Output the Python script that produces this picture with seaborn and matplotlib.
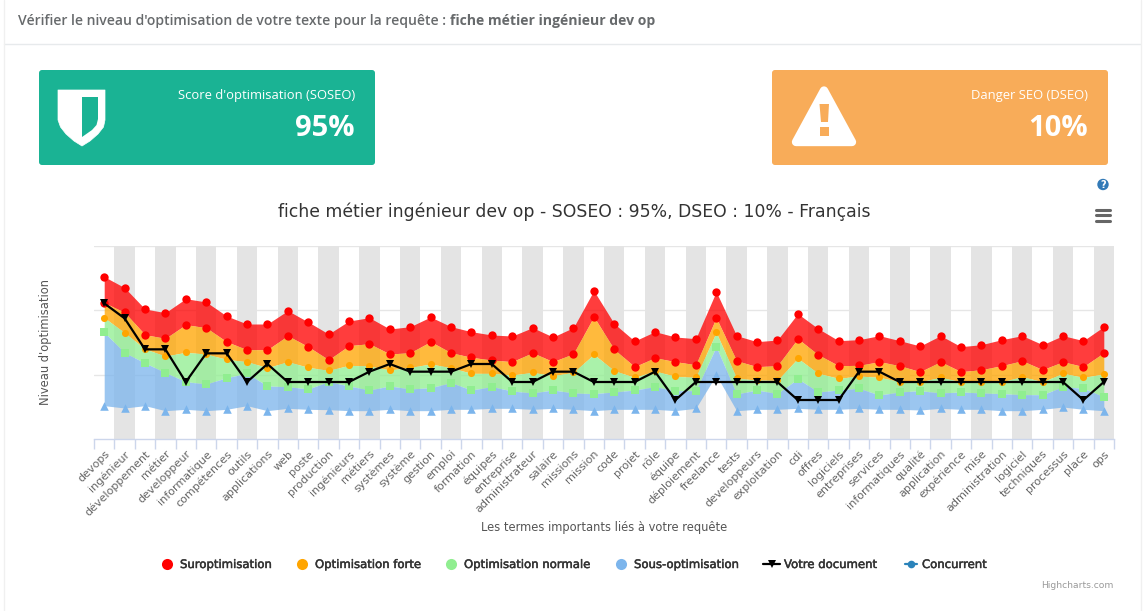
import numpy as np
import pandas as pd
import matplotlib
matplotlib.use("Agg")
import matplotlib.pyplot as plt
import matplotlib.patheffects as pe
from matplotlib.patches import FancyBboxPatch, Polygon, Circle, Rectangle
from matplotlib.lines import Line2D
import seaborn as sns

terms = ["devops","ingénieur","développement","métier","developpeur","informatique","compétences","outils",
 "applications","web","poste","production","ingénieurs","métiers","systèmes","système","gestion","emploi",
 "formation","équipes","entreprise","administrateur","salaire","missions","mission","code","projet","rôle",
 "équipe","déploiement","freelance","tests","developpeurs","exploitation","cdi","offres","logiciels",
 "entreprises","services","informatiques","qualité","application","expérience","mise","administration",
 "logiciel","techniques","processus","place","ops"]
suropt_top = [487,454,390,379,421,411,369,345,345,385,351,315,354,364,330,337,366,337,322,312,309,334,306,334,445,
 346,294,322,306,301,442,310,292,297,376,331,295,298,310,295,279,310,277,283,298,310,283,310,295,337]
forte_top = [409,380,313,302,343,334,292,268,268,310,277,238,280,286,255,259,292,259,245,237,232,259,232,256,367,
 269,217,244,232,223,364,235,217,220,301,253,220,221,232,220,202,232,202,208,220,235,208,232,217,259]
normale_top = [364,319,270,249,260,255,239,232,214,232,215,206,221,219,207,215,225,214,197,197,192,200,190,200,254,
 205,185,204,188,185,320,182,177,176,242,197,182,189,185,172,172,185,172,172,172,187,172,197,185,195]
sous_top = [320,259,228,199,172,165,184,197,159,157,150,172,159,147,159,150,154,169,147,157,144,138,147,138,136,
 141,147,157,145,145,277,135,147,136,181,141,147,152,132,141,145,138,141,138,136,133,133,157,152,127]
sous_bas = [100,93,100,85,89,85,89,100,85,92,89,88,85,85,89,85,85,89,89,92,92,89,92,89,85,
 89,89,89,85,92,192,85,89,89,92,89,89,92,89,89,87,92,89,89,85,85,89,96,89,85]
votre_doc = [407,362,269,269,171,257,257,171,225,171,171,171,171,202,225,202,202,202,225,225,171,171,202,202,171,
 171,171,202,117,171,171,171,171,171,117,117,117,202,202,171,171,171,171,171,171,171,171,171,117,171]

page_title = "Vérifier le niveau d'optimisation de votre texte pour la requête : "
query = "fiche métier ingénieur dev op"
chart_title = "fiche métier ingénieur dev op - SOSEO : 95%, DSEO : 10% - Français"

sns.set_theme(style="white")
plt.rcParams["font.family"] = ["DejaVu Sans"]

fig = plt.figure(figsize=(11.45, 6.11), dpi=100, facecolor="white")
W, H = 1145, 611
ov = fig.add_axes([0, 0, 1, 1], zorder=0)
ov.set_xlim(0, W); ov.set_ylim(H, 0); ov.axis("off")

# page furniture
ov.add_line(Line2D([4, 1140], [44, 44], color="#e7eaec", lw=1))
ov.add_line(Line2D([3.5, 3.5], [0, 611], color="#f0f0f0", lw=1))
ov.add_line(Line2D([1140.5, 1140.5], [0, 611], color="#f0f0f0", lw=1))
t = ov.text(18, 21, page_title, fontfamily="Open Sans", fontsize=10.05, fontweight="semibold", color="#676a6c", va="center")
fig.canvas.draw()
bb = t.get_window_extent()
ov.text(bb.x1, 21, query, fontfamily="Open Sans", fontsize=10.05, fontweight="bold", color="#676a6c", va="center")

for x0, x1, c in [(39, 375, "#1ab394"), (772, 1108, "#f8ac59")]:
    ov.add_patch(FancyBboxPatch((x0+3, 73), x1-x0-6, 89, boxstyle="round,pad=3,rounding_size=3", fc=c, ec="none"))
ov.text(355, 95, "Score d'optimisation (SOSEO)", fontfamily="Open Sans", fontsize=9.35, color="white", ha="right", va="center")
ov.text(355, 128.5, "95%", fontfamily="Open Sans", fontsize=21, fontweight="bold", color="white", ha="right", va="center")
ov.text(1088, 95, "Danger SEO (DSEO)", fontfamily="Open Sans", fontsize=9.35, color="white", ha="right", va="center")
ov.text(1088, 128.5, "10%", fontfamily="Open Sans", fontsize=21, fontweight="bold", color="white", ha="right", va="center")

# shield
ov.add_patch(Polygon([(58,90),(105,90),(105,120),(103.5,127),(98,134),(90,141),(82,146),(74,141),(66,134),(60.5,127),(58,120)],
                     fc="white", ec="white", lw=0.5, joinstyle="round"))
ov.add_patch(Polygon([(82,97),(98,97),(98,119),(96.5,125),(92,130),(82,137)], fc="#1ab394", ec="none"))
# warning
ov.add_patch(Polygon([(824,90.5),(852,142),(796,142)], fc="white", ec="white", lw=6, joinstyle="round"))
ov.add_patch(Polygon([(819.5,104),(829,104),(828,122),(821,122)], fc="#f8ac59", ec="none"))
ov.add_patch(Rectangle((820,127), 9, 9, fc="#f8ac59", ec="none"))

# help and menu
ov.add_patch(Circle((1103,184.5), 5.7, fc="#337ab7", ec="none"))
ov.text(1103, 184.5, "?", color="white", fontsize=7, fontweight="bold", ha="center", va="center")
for y in (210, 215, 220.5):
    ov.add_line(Line2D([1096,1110],[y,y], color="#666666", lw=2.2, solid_capstyle="round"))

# chart
ax = fig.add_axes([94/W, (H-439)/H, 1020/W, 193/H], zorder=1)
ax.patch.set_alpha(0)
x = np.arange(len(terms))
df = pd.DataFrame(dict(x=x, suropt=suropt_top, forte=forte_top, normale=normale_top, sous=sous_top, bas=sous_bas, doc=votre_doc))

for i in x[1::2]:
    ax.axvspan(i-0.5, i+0.5, color="#e4e4e4", lw=0, zorder=0.5)
for v in (193, 386, 579):
    ax.axhline(v, color="#e6e6e6", lw=1, zorder=0.3)

bands = [("suropt","forte","#ff0000"),("forte","normale","#ffa500"),("normale","sous","#90ee90"),("sous","bas","#7cb5ec")]
for up, lo, c in bands:
    ax.fill_between(df.x, df[lo], df[up], color=c, alpha=0.76, lw=0, zorder=1)

sns.scatterplot(data=df, x="x", y="bas", marker="^", s=38, color="#7cb5ec", linewidth=0, ax=ax, zorder=2, clip_on=False)
sns.scatterplot(data=df, x="x", y="sous", marker="s", s=34, color="#90ee90", linewidth=0, ax=ax, zorder=2, clip_on=False)
sns.scatterplot(data=df, x="x", y="normale", marker="o", s=26, color="#ffa500", linewidth=0, ax=ax, zorder=2, clip_on=False)
sns.scatterplot(data=df, x="x", y="forte", marker="o", s=36, color="#ff0000", linewidth=0, ax=ax, zorder=2.2, clip_on=False)
sns.scatterplot(data=df, x="x", y="suropt", marker="o", s=36, color="#ff0000", linewidth=0, ax=ax, zorder=2.2, clip_on=False)
sns.lineplot(data=df, x="x", y="doc", color="black", lw=1.6, marker="v", markersize=5.5, markeredgewidth=0, ax=ax, zorder=3, clip_on=False)

ax.set_xlim(-0.5, len(terms)-0.5)
ax.set_ylim(0, 579)
ax.set_yticks([])
ax.set_xticks(x)
ax.set_xticklabels(terms, rotation=45, ha="right", rotation_mode="anchor", fontsize=8.0, color="#666666")
ax.tick_params(axis="x", which="major", length=0, pad=7)
ax.set_xticks(np.arange(-0.5, len(terms)), minor=True)
ax.tick_params(axis="x", which="minor", length=7, width=1, color="#ccd6eb", bottom=True)
for s in ("top","left","right"):
    ax.spines[s].set_visible(False)
ax.spines["bottom"].set_color("#ccd6eb")
ax.spines["bottom"].set_linewidth(1)

ax.set_xlabel("Les termes importants liés à votre requête", fontsize=8.3, color="#555555")
ax.xaxis.set_label_coords((604-94)/1020, (439-527.5)/193)
ax.xaxis.label.set_verticalalignment("center")
ax.set_ylabel("Niveau d'optimisation", fontsize=8.3, color="#555555")
ax.yaxis.set_label_coords((45-94)/1020, (439-342)/193)
ax.yaxis.label.set_verticalalignment("center")
ax.text((574-94)/1020, (439-212)/193, chart_title, transform=ax.transAxes, fontsize=12.45, color="#333333", ha="center", va="center")

# legend
ly = 563.5
stroke = [pe.withStroke(linewidth=0.35, foreground="#333333")]
for cx, c, lab, tx in [(167,"#ff0000","Suroptimisation",180),(302,"#ffa500","Optimisation forte",315),
                       (451,"#90ee90","Optimisation normale",464),(621,"#7cb5ec","Sous-optimisation",634)]:
    ov.add_line(Line2D([cx],[ly], marker="o", ms=8, color=c, mew=0))
    ov.text(tx, ly+1, lab, fontsize=8.4, color="#333333", va="center", path_effects=stroke)
ov.add_line(Line2D([763,780],[ly,ly], color="black", lw=1.6))
ov.add_line(Line2D([771.5],[ly], marker="v", ms=6, color="black", mew=0))
ov.text(784, ly+1, "Votre document", fontsize=8.4, color="#333333", va="center", path_effects=stroke)
ov.add_line(Line2D([905,917],[ly,ly], color="#2b83ba", lw=1.6))
ov.add_line(Line2D([911],[ly], marker="o", ms=5.5, color="#2b83ba", mew=0))
ov.text(922, ly+1, "Concurrent", fontsize=8.4, color="#333333", va="center", path_effects=stroke)
ov.text(1114, 586, "Highcharts.com", fontsize=6.6, color="#999999", ha="right", va="center")

fig.savefig("out.png", dpi=100)
